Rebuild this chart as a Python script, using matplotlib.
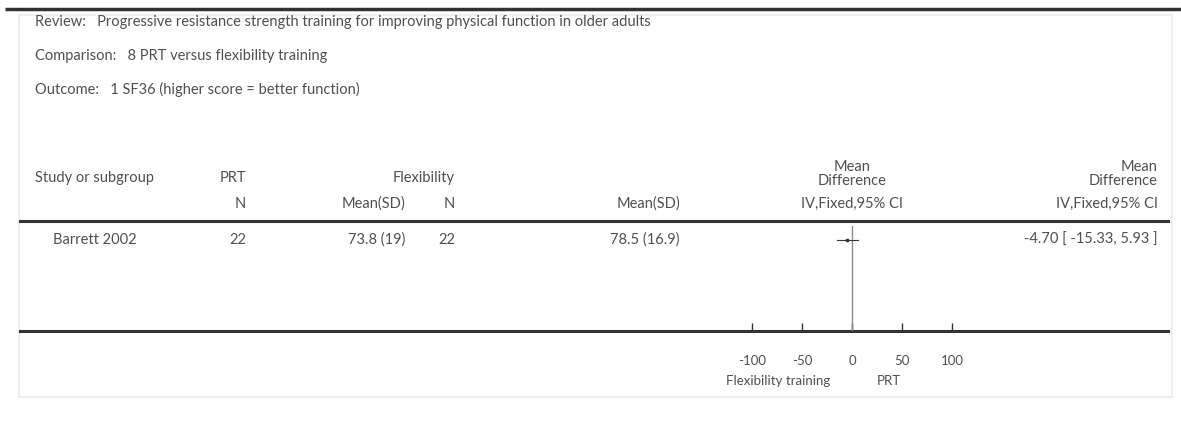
import matplotlib
matplotlib.use("Agg")
import matplotlib.pyplot as plt
from matplotlib.patches import Rectangle

# --- datos ---
review = "Progressive resistance strength training for improving physical function in older adults"
comparison = "8 PRT versus flexibility training"
outcome = "1 SF36 (higher score = better function)"
studies = ["Barrett 2002"]
prt_n = [22]
prt_mean_sd = ["73.8 (19)"]
flex_n = [22]
flex_mean_sd = ["78.5 (16.9)"]
md = [-4.70]
ci_lo = [-15.33]
ci_hi = [5.93]
ticks = [-100, -50, 0, 50, 100]
tick_labels = ["-100", "-50", "0", "50", "100"]
left_label, right_label = "Flexibility training", "PRT"

W, H = 1181, 423
TXT = "#505050"
LINE = "#333333"
FS = 10.5
plt.rcParams["font.family"] = ["Lato", "DejaVu Sans"]

fig = plt.figure(figsize=(W / 100, H / 100), dpi=100)
bg = fig.add_axes([0, 0, 1, 1])
bg.set_xlim(0, W); bg.set_ylim(H, 0); bg.axis("off")

bg.add_patch(Rectangle((19, 15), 1153, 382, fill=False, edgecolor="#efefef", lw=1.5))
bg.plot([5, W], [9, 9], color=LINE, lw=2.5, solid_capstyle="butt")

def t(x, y, s, ha="left", fs=FS, **kw):
    bg.text(x, y, s, ha=ha, va="center", fontsize=fs, color=TXT, **kw)

t(35, 22, "Review:   " + review)
t(35, 56, "Comparison:   " + comparison)
t(35, 89, "Outcome:   " + outcome)

t(35, 178, "Study or subgroup")
t(246, 178, "PRT", ha="right")
t(455, 178, "Flexibility", ha="right")
t(852, 174, "Mean\nDifference", ha="center", linespacing=1.05)
t(1158, 174, "Mean\nDifference", ha="right", linespacing=1.05)
t(246, 204, "N", ha="right")
t(405, 204, "Mean(SD)", ha="right")
t(455, 204, "N", ha="right")
t(680, 204, "Mean(SD)", ha="right")
t(852, 204, "IV,Fixed,95% CI", ha="center")
t(1158, 204, "IV,Fixed,95% CI", ha="right")
bg.plot([20, 1168], [221, 221], color=LINE, lw=2.2)

for i, s in enumerate(studies):
    y = 240 + i * 20
    t(95, y, s, ha="center")
    t(246, y, str(prt_n[i]), ha="right")
    t(405, y, prt_mean_sd[i], ha="right")
    t(455, y, str(flex_n[i]), ha="right")
    t(680, y, flex_mean_sd[i], ha="right")
    t(1158, y, f"{md[i]:.2f} [ {ci_lo[i]:.2f}, {ci_hi[i]:.2f} ]", ha="right")

bg.plot([20, 1168], [331, 331], color=LINE, lw=2.2)

# --- forest plot ---
x0, x1 = 752, 952
ytop, ybot = 226, 331
ax = fig.add_axes([x0 / W, (H - ybot) / H, (x1 - x0) / W, (ybot - ytop) / H])
ax.patch.set_alpha(0)
ax.set_xlim(-100, 100)
ax.set_ylim(0, ybot - ytop)
for sp in ax.spines.values():
    sp.set_visible(False)
ax.axvline(0, color="#8a8a8a", lw=1)
for i in range(len(studies)):
    yy = (ybot - ytop) - (14 + i * 20)
    ax.plot([ci_lo[i], ci_hi[i]], [yy, yy], color=LINE, lw=0.8)
    ax.plot([md[i]], [yy], marker="s", ms=2, color=LINE)
ax.set_yticks([])
ax.set_xticks(ticks)
ax.set_xticklabels(tick_labels)
ax.tick_params(axis="x", direction="in", length=6, width=1, color=LINE,
               labelsize=9.5, labelcolor=TXT, pad=17)
t(778, 381, left_label, ha="center", fs=9.5)
t(889, 381, right_label, ha="center", fs=9.5)

fig.savefig("out.png", dpi=100, facecolor="white")
